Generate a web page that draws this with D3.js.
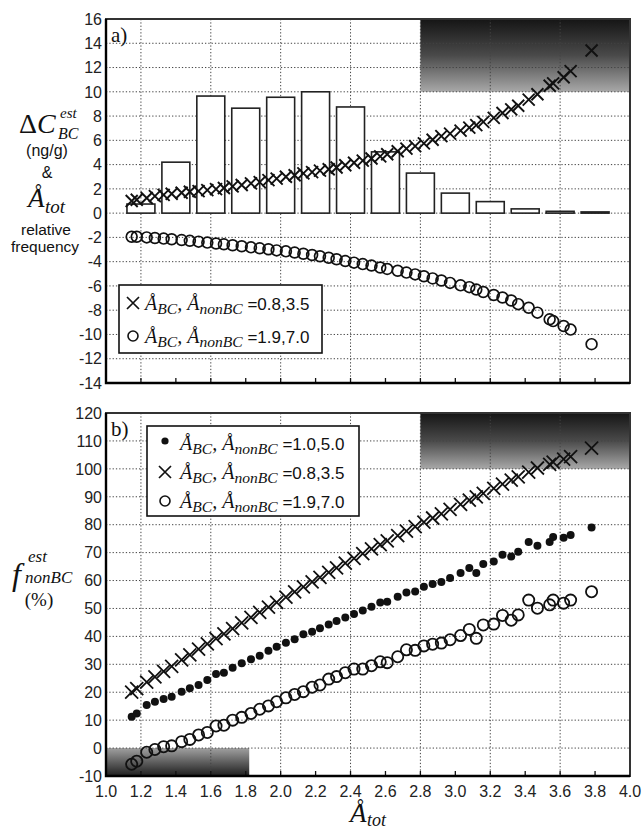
<!DOCTYPE html>
<html><head><meta charset="utf-8">
<script src="https://cdn.jsdelivr.net/npm/d3@7"></script>
<style>body{margin:0;background:#fff} svg{display:block}</style>
</head><body><svg id="c" width="642" height="831"></svg>
<script>
// ---- data ----
const xVals = [1.147,1.176,1.233,1.28,1.33,1.376,1.433,1.48,1.53,1.58,1.63,1.675,1.725,1.777,1.83,1.88,1.93,1.977,2.03,2.08,2.13,2.18,2.225,2.275,2.32,2.37,2.42,2.47,2.52,2.57,2.61,2.67,2.72,2.77,2.82,2.87,2.92,2.97,3.03,3.08,3.12,3.16,3.22,3.27,3.32,3.36,3.42,3.47,3.54,3.56,3.62,3.66,3.78];
// panel a) delta C_BC (ng/g)
const aCross = [1.0,1.1,1.25,1.4,1.5,1.6,1.68,1.76,1.82,1.9,1.98,2.07,2.2,2.32,2.45,2.56,2.72,2.85,3.0,3.12,3.28,3.38,3.5,3.62,3.76,3.95,4.15,4.33,4.5,4.68,4.85,5.1,5.32,5.52,5.75,6.05,6.35,6.55,6.8,7.05,7.25,7.52,7.85,8.25,8.55,8.85,9.35,9.8,10.5,10.7,11.2,11.7,13.4];
const aCircle = [-1.95,-1.95,-2.0,-2.05,-2.1,-2.15,-2.22,-2.28,-2.35,-2.43,-2.5,-2.57,-2.65,-2.73,-2.82,-2.9,-2.98,-3.07,-3.15,-3.25,-3.35,-3.45,-3.55,-3.68,-3.8,-3.95,-4.08,-4.2,-4.32,-4.48,-4.6,-4.75,-4.9,-5.05,-5.2,-5.38,-5.55,-5.75,-5.95,-6.1,-6.3,-6.5,-6.75,-6.95,-7.2,-7.5,-7.8,-8.2,-8.75,-8.9,-9.3,-9.6,-10.8];
// histogram (relative frequency)
const binCenters = [1.2,1.4,1.6,1.8,2.0,2.2,2.4,2.6,2.8,3.0,3.2,3.4,3.6,3.8];
const binFreq = [0.75,4.2,9.65,8.65,9.55,10.0,8.75,5.05,3.3,1.65,0.95,0.35,0.15,0.1];
// panel b) f_nonBC (%)
const bDot = [11.2,12.4,15.4,16.6,17.6,18.4,20.2,21.4,22.6,24.4,26.5,27.0,28.8,30.4,31.8,33.1,34.9,36.3,37.7,39.0,40.8,41.7,42.9,44.3,45.5,46.8,48.0,49.3,50.6,52.1,52.4,54.2,55.7,56.1,57.8,58.8,59.5,60.9,62.7,64.5,62.7,65.9,66.8,69.2,68.6,70.3,73.8,72.5,73.8,75.6,75.3,76.3,79.0];
const bCross = [20.0,21.3,23.6,25.5,27.5,29.3,31.6,33.4,35.4,37.3,39.2,40.9,42.8,44.8,46.8,48.6,50.5,52.2,54.1,55.9,57.7,59.5,61.1,62.9,64.5,66.2,67.9,69.6,71.3,72.9,74.2,76.1,77.7,79.3,80.9,82.4,83.9,85.5,87.3,88.8,90.0,91.2,93.0,94.5,96.0,97.1,98.8,100.3,101.6,102.4,103.5,104.4,107.4];
const bCircle = [-5.8,-4.7,-1.5,-0.5,0.5,0.8,2.3,3.1,4.7,5.6,7.9,8.2,10.0,11.0,12.4,13.9,15.1,16.6,18.0,19.2,20.2,21.8,22.6,24.7,25.6,27.0,28.3,28.3,29.5,30.9,30.6,32.7,35.2,35.0,36.6,37.2,37.6,38.8,40.3,42.5,39.3,44.1,44.4,47.5,45.8,47.7,53.0,50.1,51.3,53.0,51.9,53.0,56.0];
// ticks
const xTicks = [1.0,1.2,1.4,1.6,1.8,2.0,2.2,2.4,2.6,2.8,3.0,3.2,3.4,3.6,3.8,4.0];
const xGrid = [1.2,1.6,2.0,2.4,2.8,3.2,3.6];
const aYTicks = [-14,-12,-10,-8,-6,-4,-2,0,2,4,6,8,10,12,14,16];
const bYTicks = [-10,0,10,20,30,40,50,60,70,80,90,100,110,120];
// shaded regions
const aShade = [{x0:2.8,x1:4.0,y0:10,y1:16,g:'gDown'}];
const bShade = [{x0:2.8,x1:4.0,y0:100,y1:120,g:'gDown'},{x0:1.0,x1:1.82,y0:-10,y1:0,g:'gUp'}];
const legendA = [{m:'x',v:'0.8,3.5'},{m:'o',v:'1.9,7.0'}];
const legendB = [{m:'d',v:'1.0,5.0'},{m:'x',v:'0.8,3.5'},{m:'o',v:'1.9,7.0'}];

// ---- drawing ----
const svg = d3.select('#c');
const SERIF = "'Liberation Serif','DejaVu Serif',serif";
const SANS = "'Liberation Sans',Arial,sans-serif";
const x = d3.scaleLinear().domain([1,4]).range([106,630]);
const yA = d3.scaleLinear().domain([-14,16]).range([383,19]);
const yB = d3.scaleLinear().domain([-10,120]).range([776,413]);

const defs = svg.append('defs');
const g1 = defs.append('linearGradient').attr('id','gDown').attr('x1',0).attr('y1',0).attr('x2',0).attr('y2',1);
g1.append('stop').attr('offset',0).attr('stop-color','#151515');
g1.append('stop').attr('offset',0.5).attr('stop-color','#4a4a4a');
g1.append('stop').attr('offset',1).attr('stop-color','#a8a8a8');
const g2 = defs.append('linearGradient').attr('id','gUp').attr('x1',0).attr('y1',0).attr('x2',0).attr('y2',1);
g2.append('stop').attr('offset',0).attr('stop-color','#a0a0a0');
g2.append('stop').attr('offset',1).attr('stop-color','#1e1e1e');

const crossPath = s => `M${-s},${-s}L${s},${s}M${-s},${s}L${s},${-s}`;

function panel(y, yTicks, shades, label) {
  const g = svg.append('g');
  const [yb, yt] = y.range();
  g.selectAll('rect.sh').data(shades).join('rect')
    .attr('x', d=>x(d.x0)).attr('width', d=>x(d.x1)-x(d.x0))
    .attr('y', d=>y(d.y1)).attr('height', d=>y(d.y0)-y(d.y1))
    .attr('fill', d=>`url(#${d.g})`);
  g.selectAll('line.hg').data(yTicks.slice(1,-1)).join('line')
    .attr('x1',x(1)).attr('x2',x(4)).attr('y1',d=>y(d)).attr('y2',d=>y(d))
    .attr('stroke','#444').attr('stroke-width',1).attr('stroke-dasharray','1.3,2');
  g.selectAll('line.vg').data(xGrid).join('line')
    .attr('x1',d=>x(d)).attr('x2',d=>x(d)).attr('y1',yt).attr('y2',yb)
    .attr('stroke','#444').attr('stroke-width',1).attr('stroke-dasharray','1.3,2');
  g.selectAll('line.tk').data(xTicks.slice(1,-1)).join('line')
    .attr('x1',d=>x(d)).attr('x2',d=>x(d)).attr('y1',yb).attr('y2',yb-5)
    .attr('stroke','#111').attr('stroke-width',1.3);
  g.selectAll('text.yl').data(yTicks).join('text')
    .attr('x',102).attr('y',d=>y(d)).attr('dy','0.36em').attr('text-anchor','end')
    .attr('font-family',SANS).attr('font-size',16).attr('fill','#222').text(d=>d);
  g.append('text').attr('x',111).attr('y',yt+23).attr('font-family',SERIF).attr('font-size',21).attr('fill','#111').text(label);
  return g;
}

function drawCross(g, pts, s, w) {
  g.selectAll(null).data(pts).join('path')
    .attr('transform',d=>`translate(${d[0]},${d[1]})`)
    .attr('d',crossPath(s)).attr('stroke','#111').attr('stroke-width',w).attr('fill','none');
}
function drawCircle(g, pts, r, w) {
  g.selectAll(null).data(pts).join('circle')
    .attr('cx',d=>d[0]).attr('cy',d=>d[1]).attr('r',r)
    .attr('stroke','#111').attr('stroke-width',w).attr('fill','none');
}
function drawDot(g, pts, r) {
  g.selectAll(null).data(pts).join('circle')
    .attr('cx',d=>d[0]).attr('cy',d=>d[1]).attr('r',r).attr('fill','#111');
}
function frame(g, y) {
  const [yb, yt] = y.range();
  g.append('rect').attr('x',x(1)).attr('y',yt).attr('width',x(4)-x(1)).attr('height',yb-yt)
    .attr('fill','none').attr('stroke','#333').attr('stroke-width',2);
  g.append('path').attr('d',`M${x(1)},${yt}V${yb}H${x(4)}`).attr('fill','none').attr('stroke','#000').attr('stroke-width',2.4);
}

function legendRow(g, lx, mx, base, item, fs) {
  const cy = base - 7;
  if (item.m==='x') drawCross(g, [[mx,cy]], 6, 1.7);
  else if (item.m==='o') drawCircle(g, [[mx,cy]], 5, 1.6);
  else drawDot(g, [[mx,cy-2]], 3.6);
  const t = g.append('text').attr('x',lx).attr('y',base).attr('fill','#111');
  t.append('tspan').attr('font-family',SERIF).attr('font-style','italic').attr('font-size',fs).text('Å');
  t.append('tspan').attr('font-family',SERIF).attr('font-style','italic').attr('font-size',fs*0.78).attr('dy',4).text('BC');
  t.append('tspan').attr('font-family',SERIF).attr('font-style','italic').attr('font-size',fs).attr('dy',-4).text(', Å');
  t.append('tspan').attr('font-family',SERIF).attr('font-style','italic').attr('font-size',fs*0.78).attr('dy',4).text('nonBC');
  t.append('tspan').attr('font-family',SANS).attr('font-size',fs*0.85).attr('dy',-4).text(' =' + item.v);
}

// Panel a
const pa = panel(yA, aYTicks, aShade, 'a)');
pa.selectAll('rect.bar').data(binCenters.map((c,i)=>[c,binFreq[i]])).join('rect')
  .attr('x',d=>x(d[0]-0.08)).attr('width',x(1.16)-x(1))
  .attr('y',d=>yA(d[1])).attr('height',d=>yA(0)-yA(d[1]))
  .attr('fill','#fff').attr('stroke','#222').attr('stroke-width',1.6);
drawCross(pa, xVals.map((v,i)=>[x(v), yA(aCross[i])]), 6, 1.9);
drawCircle(pa, xVals.map((v,i)=>[x(v), yA(aCircle[i])]), 5.4, 1.7);
frame(pa, yA);
const la = pa.append('g');
la.append('rect').attr('x',119).attr('y',285).attr('width',203).attr('height',68).attr('fill','#fff').attr('stroke','#111').attr('stroke-width',1.6);
legendA.forEach((it,i)=>legendRow(la, 145, 133, 310 + i*33, it, 20));

// Panel b
const pb = panel(yB, bYTicks, bShade, 'b)');
drawCross(pb, xVals.map((v,i)=>[x(v), yB(bCross[i])]), 6.5, 1.8);
drawDot(pb, xVals.map((v,i)=>[x(v), yB(bDot[i])]), 4);
drawCircle(pb, xVals.map((v,i)=>[x(v), yB(bCircle[i])]), 5.6, 1.8);
frame(pb, yB);
const lb = pb.append('g');
lb.append('rect').attr('x',147).attr('y',426).attr('width',212).attr('height',90).attr('fill','#fff').attr('stroke','#111').attr('stroke-width',1.6);
legendB.forEach((it,i)=>legendRow(lb, 180, 165, 450 + i*29, it, 20));

// x tick labels (bottom only)
svg.selectAll('text.xl').data(xTicks).join('text')
  .attr('x',d=>x(d)).attr('y',797).attr('text-anchor','middle')
  .attr('font-family',SANS).attr('font-size',16).attr('fill','#222').text(d=>d.toFixed(1));

// axis titles
const T = (xx,yy,txt,fam,fs,it,anchor) => svg.append('text').attr('x',xx).attr('y',yy).attr('font-family',fam)
  .attr('font-size',fs).attr('font-style',it?'italic':'normal').attr('text-anchor',anchor||'start').attr('fill','#111').text(txt);
const dc = svg.append('text').attr('x',19).attr('y',133).attr('font-family',SERIF).attr('font-size',28).attr('fill','#111');
dc.append('tspan').text('Δ');
dc.append('tspan').attr('font-style','italic').text('C');
T(60,118,'est',SERIF,15,true);
T(58,139,'BC',SERIF,16,true);
T(47,156,'(ng/g)',SANS,16,false,'middle');
T(47,178,'&',SANS,16,false,'middle');
T(28,207,'Å',SERIF,27,true);
T(45,213,'tot',SERIF,19,true);
T(46,235,'relative',SANS,15.5,false,'middle');
T(45,252,'frequency',SANS,15.5,false,'middle');
T(12,585,'f',SERIF,32,true);
T(28,562,'est',SERIF,17,true);
T(25,583,'nonBC',SERIF,17,true);
T(39,606,'(%)',SERIF,19,false,'middle');
T(350,822,'Å',SERIF,27,true);
T(367,826,'tot',SERIF,18,true);
</script></body></html>
